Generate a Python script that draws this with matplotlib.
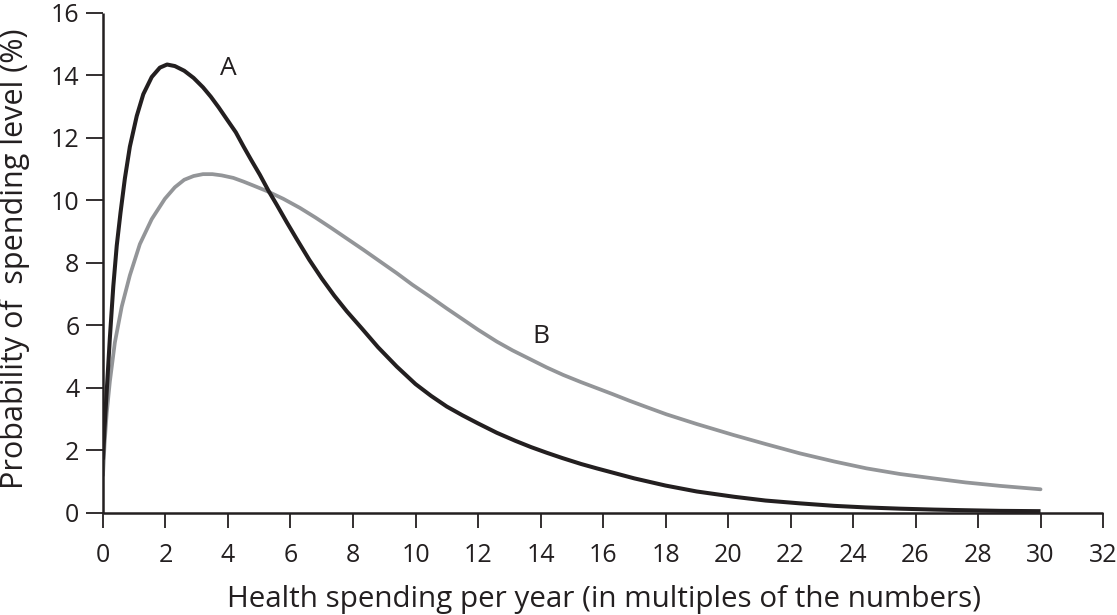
import matplotlib.pyplot as plt

# curve A (black) and curve B (gray)
a_x = [0, 0.05, 0.12, 0.22, 0.33, 0.44, 0.56, 0.7, 0.86, 1.08, 1.29, 1.56, 1.82,
       2.05, 2.3, 2.6, 2.9, 3.2, 3.45, 3.7, 3.96, 4.25, 4.5, 4.75, 5.02, 5.3, 5.56,
       5.88, 6.2, 6.6, 7.0, 7.4, 7.8, 8.3, 8.8, 9.4, 10.0, 10.5, 11.0, 11.5, 12.0,
       12.6, 13.2, 13.7, 14.2, 14.7, 15.3, 15.8, 16.4, 17.0, 18.0, 19.0, 20.2, 21.2,
       22.3, 23.4, 24.4, 25.5, 26.6, 27.6, 28.7, 30.0]
a_y = [1.7, 2.7, 3.9, 5.6, 7.25, 8.55, 9.6, 10.7, 11.72, 12.7, 13.4, 13.95, 14.25,
       14.35, 14.3, 14.15, 13.92, 13.62, 13.32, 12.98, 12.6, 12.18, 11.72, 11.28,
       10.82, 10.3, 9.86, 9.3, 8.76, 8.1, 7.5, 6.95, 6.45, 5.88, 5.3, 4.68, 4.12,
       3.74, 3.4, 3.12, 2.86, 2.56, 2.3, 2.1, 1.92, 1.75, 1.56, 1.42, 1.26, 1.1,
       0.87, 0.68, 0.51, 0.39, 0.3, 0.22, 0.17, 0.13, 0.1, 0.08, 0.06, 0.05]

b_x = [0, 0.05, 0.12, 0.22, 0.38, 0.6, 0.86, 1.18, 1.56, 1.98, 2.3, 2.6, 2.9, 3.2,
       3.5, 3.8, 4.17, 4.5, 4.8, 5.24, 5.77, 6.3, 6.8, 7.3, 7.8, 8.33, 8.9, 9.4, 9.9,
       10.46, 11.0, 11.53, 12.0, 12.6, 13.1, 13.66, 14.2, 14.73, 15.3, 15.8, 16.3,
       16.86, 17.4, 18.03, 19.0, 20.17, 21.2, 22.3, 23.4, 24.43, 25.5, 26.57, 27.6,
       28.7, 30.0]
b_y = [1.2, 2.2, 3.2, 4.2, 5.45, 6.6, 7.6, 8.6, 9.4, 10.05, 10.42, 10.66, 10.78,
       10.84, 10.84, 10.8, 10.72, 10.6, 10.48, 10.3, 10.05, 9.76, 9.45, 9.12, 8.78,
       8.42, 8.02, 7.67, 7.3, 6.92, 6.54, 6.18, 5.86, 5.48, 5.2, 4.92, 4.65, 4.41,
       4.18, 3.99, 3.8, 3.58, 3.38, 3.15, 2.84, 2.49, 2.2, 1.9, 1.64, 1.42, 1.24,
       1.1, 0.97, 0.86, 0.75]

x_ticks = list(range(0, 33, 2))
y_ticks = list(range(0, 17, 2))

ink = "#231f20"
gray = "#939598"

plt.rcParams["font.family"] = ["Open Sans", "DejaVu Sans"]

fig = plt.figure(figsize=(11.17, 6.15), dpi=100)
ax = fig.add_axes([0.0922, 0.1663, 0.8953, 0.8126])

ax.plot(b_x, b_y, color=gray, lw=2.7, solid_capstyle="round", solid_joinstyle="round")
ax.plot(a_x, a_y, color=ink, lw=2.9, solid_capstyle="butt", solid_joinstyle="round")

ax.text(4.0, 14.03, "A", fontsize=19, color=ink, ha="center", va="baseline")
ax.text(14.0, 5.43, "B", fontsize=19, color=ink, ha="center", va="baseline")

ax.set_xlim(0, 32)
ax.set_ylim(0, 16)
ax.set_xticks(x_ticks)
ax.set_yticks(y_ticks)
ax.spines["top"].set_visible(False)
ax.spines["right"].set_visible(False)
for s in ("left", "bottom"):
    ax.spines[s].set_linewidth(1.8)
    ax.spines[s].set_color(ink)
    ax.spines[s].set_capstyle("butt")
ax.tick_params(axis="x", direction="out", length=11, width=1.3, color=ink,
               labelsize=18, labelcolor=ink, pad=11)
ax.tick_params(axis="y", direction="out", length=12, width=1.3, color=ink,
               labelsize=18, labelcolor=ink, pad=5)

fig.text(0.5407, 1 - 606.7 / 615, "Health spending per year (in multiples of the numbers)",
         fontsize=21.3, color=ink, ha="center", va="baseline")
fig.text(22.7 / 1117, 1 - 258.5 / 615, "Probability of  spending level (%)",
         fontsize=22, color=ink, ha="center", va="baseline",
         rotation=90, rotation_mode="anchor")

fig.savefig("out.png", dpi=100)
